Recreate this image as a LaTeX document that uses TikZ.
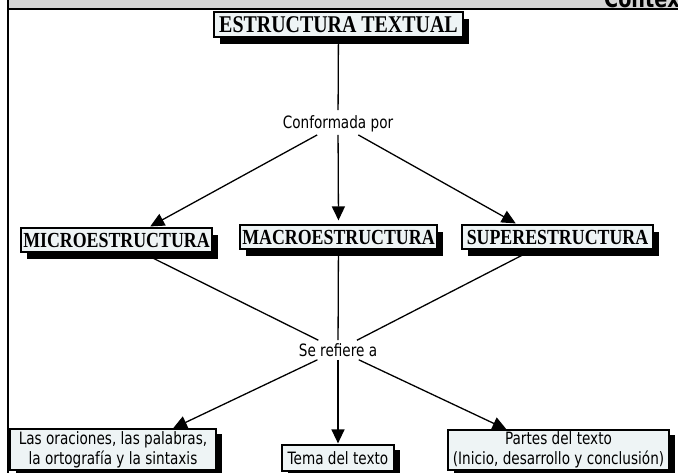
\documentclass[tikz,border=0pt]{standalone}
\usepackage{fontspec}
\usetikzlibrary{arrows.meta,shadows}
\newfontfamily\sansf[FakeStretch=0.8]{DejaVu Sans}
\newfontfamily\serifb[FakeStretch=0.83]{Liberation Serif}
\definecolor{boxfill}{HTML}{EEF4F5}
\definecolor{headgray}{HTML}{D6D6D6}
\pgfdeclarelayer{background}
\pgfsetlayers{background,main}
\tikzset{
  tbox/.style={draw=black, line width=1.2pt, fill=boxfill, inner sep=0pt,
    minimum height=24pt,
    font=\serifb\bfseries\fontsize{21.5}{24}\selectfont,
    drop shadow={shadow xshift=6pt, shadow yshift=-7pt, fill=black, opacity=1}},
  lbox/.style={draw=black, line width=1.2pt, fill=boxfill, inner sep=0pt, align=center,
    font=\sansf\fontsize{17}{20}\selectfont,
    drop shadow={shadow xshift=6pt, shadow yshift=-5pt, fill=black, opacity=1}},
  lab/.style={font=\sansf\fontsize{17}{20}\selectfont, inner sep=3pt},
  conn/.style={line width=1.3pt},
  arr/.style={conn, -{Triangle[length=14pt,width=13pt]}}
}
\begin{document}
\begin{tikzpicture}[x=1pt,y=-1pt]
\useasboundingbox (0,0) rectangle (678,473);
% header
\fill[headgray] (8,0) rectangle (678,8.5);
\begin{scope}
  \clip (8,0) rectangle (678,8.5);
  \node[anchor=base west, inner sep=0pt, font=\sansf\bfseries\fontsize{24}{24}\selectfont] (ctx) at (604,7.5) {Contex};
\end{scope}
\draw[line width=1.3pt] (8,9) -- (678,9);
\draw[line width=1.5pt] (8,0) -- (8,473);
% nodes
\node[tbox, minimum width=249pt, minimum height=25pt, font=\serifb\bfseries\fontsize{24}{26}\selectfont] (title) at (338.5,24.5) {ESTRUCTURA TEXTUAL};
\node[lab] (conf) at (338,123.5) {Conformada por};
\node[tbox, minimum width=191pt] (micro) at (116.5,240) {MICROESTRUCTURA};
\node[tbox, minimum width=197pt] (macro) at (338.5,237) {MACROESTRUCTURA};
\node[tbox, minimum width=191pt] (super) at (557.5,237) {SUPERESTRUCTURA};
\node[lab] (sere) at (338,350) {Se refiere a};
\node[lbox, minimum width=206pt, minimum height=41pt] (orac) at (113,449.5) {Las oraciones, las palabras,\\la ortografía y la sintaxis};
\node[lbox, minimum width=112pt, minimum height=26pt] (tema) at (338,458) {Tema del texto};
\node[lbox, minimum width=221pt, minimum height=40pt] (partes) at (558.5,450) {Partes del texto\\(Inicio, desarrollo y conclusión)};
% connectors
\begin{pgfonlayer}{background}
\draw[conn, shorten >=2pt] (title) -- (conf);
\draw[arr, shorten >=2pt] (conf) -- ([xshift=32pt]micro.north);
\draw[arr, shorten >=4pt] (conf) -- (macro.north);
\draw[arr, shorten >=2pt] (conf) -- ([xshift=-40pt]super.north);
\draw[conn] (micro) -- (sere);
\draw[conn] (macro) -- (sere);
\draw[conn] (super) -- (sere);
\draw[arr] (sere) -- ([xshift=60pt]orac.north);
\draw[arr, shorten >=1pt] (sere) -- (tema.north);
\draw[arr] (sere) -- ([xshift=-52pt]partes.north);
\end{pgfonlayer}
\end{tikzpicture}
\end{document}
